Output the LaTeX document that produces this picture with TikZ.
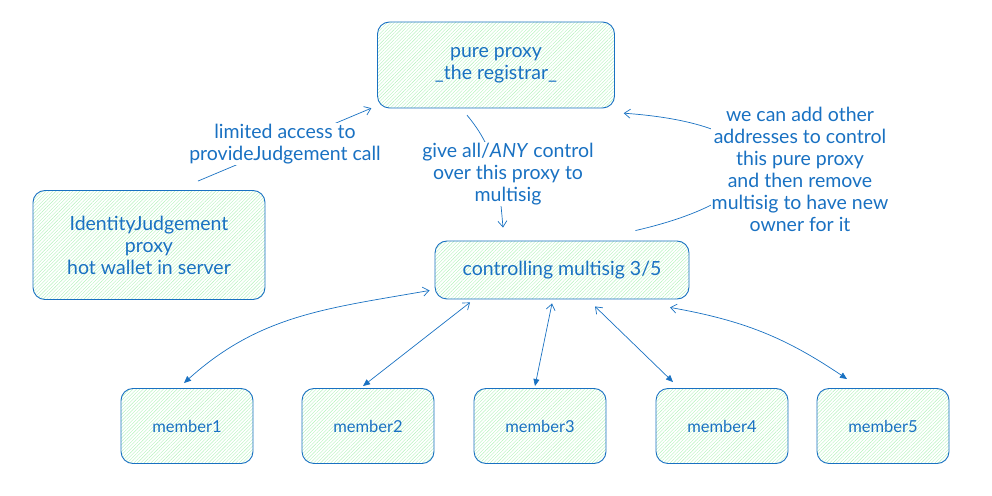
\documentclass[tikz,border=0pt]{standalone}
\usepackage{fontspec}
\setmainfont{Lato}
\usetikzlibrary{arrows.meta,patterns.meta}
\definecolor{inkblue}{HTML}{1971C2}
\definecolor{hatch}{HTML}{B2F2BB}

\begin{document}
\begin{tikzpicture}[
	x=1pt, y=1pt,
	box/.style={ draw=inkblue, line width=0.9pt, rounded corners=12pt, text=inkblue,
		pattern={Lines[angle=45,distance=2.4pt,line width=0.4pt]}, pattern color=hatch,
		align=center, font=\fontsize{19.5}{22}\selectfont, inner sep=0pt },
	memberbox/.style={ box, minimum width=132pt, minimum height=75pt, font=\fontsize{16.5}{18}\selectfont },
	note/.style={ fill=white, text=inkblue, align=center, inner sep=1pt, font=\fontsize{19.5}{22}\selectfont },
	link/.style={ draw=inkblue, line width=0.7pt },
	oneway/.style={ link, -{Straight Barb[length=6pt,width=9pt]} },
	twoway/.style={ link, {Straight Barb[length=6pt,width=9pt]}-{Triangle[length=7pt,width=6pt]} }
]
\useasboundingbox (0,0) rectangle (992,495);

\node at (496,430) (pure) [box, minimum width=237pt, minimum height=86pt] {pure proxy\\\_the registrar\_};
\node at (149,250) (idj) [box, minimum width=232pt, minimum height=109pt] {IdentityJudgement\\proxy\\hot wallet in server};
\node at (562,225) (ms) [box, minimum width=254pt, minimum height=58pt] {controlling multisig 3/5};
\foreach \x/\n in {187/1, 368/2, 540/3, 722/4, 883/5} {
	\node at (\x,69) (m\n) [memberbox] {member\n};
}

% labelled arrows to the pure proxy and the multisig
\draw [oneway] ([xshift=49pt,yshift=9pt]idj.north) to ([xshift=-6pt]pure.south west);
\draw [oneway] ([xshift=-29pt,yshift=-7pt]pure.south) to[out=-50,in=95] ([xshift=-59pt,yshift=13pt]ms.north);
\draw [oneway] ([xshift=-54pt,yshift=10pt]ms.north east) .. controls (790,300) and (790,370) .. ([xshift=9pt,yshift=-5pt]pure.south east);
\node at (285,351) (lim) [note] {limited access to\\provideJudgement call};
\node at (508,321) (give) [note] {give all/\textit{ANY} control\\over this proxy to\\multisig};
\node at (800,326) (addr) [note] {we can add other\\addresses to control\\this pure proxy\\and then remove\\multisig to have new\\owner for it};

% multisig <-> members
\draw [twoway] ([xshift=-5pt,yshift=9pt]ms.south west) to[out=190,in=42] ([xshift=-3pt,yshift=5pt]m1.north);
\draw [twoway] ([xshift=-92pt,yshift=-3pt]ms.south) to ([xshift=-5pt,yshift=2pt]m2.north);
\draw [twoway] ([xshift=-10pt,yshift=-4pt]ms.south) to ([xshift=-5pt,yshift=2pt]m3.north);
\draw [twoway] ([xshift=33pt,yshift=-7pt]ms.south) to ([xshift=-49pt,yshift=6pt]m4.north);
\draw [twoway] ([xshift=108pt,yshift=-8pt]ms.south) to[bend left=12] ([xshift=-36pt,yshift=9pt]m5.north);

\end{tikzpicture}
\end{document}
